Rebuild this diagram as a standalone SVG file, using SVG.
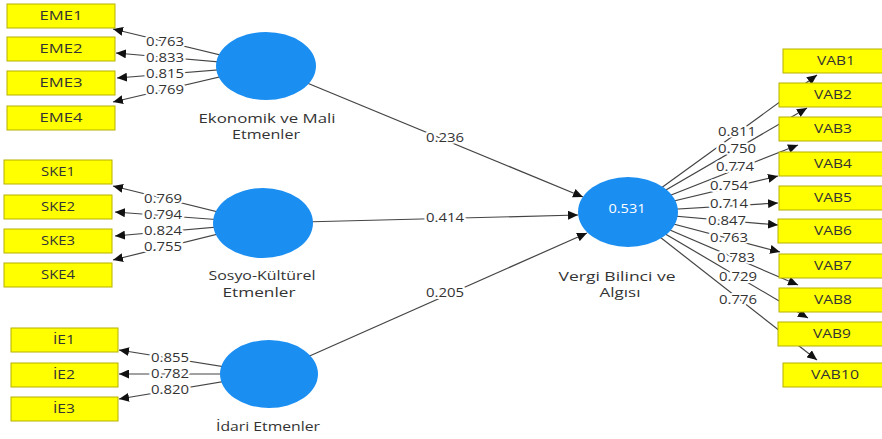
<svg xmlns="http://www.w3.org/2000/svg" width="882" height="439" viewBox="0 0 882 439">
<style>
text{font-family:"Open Sans","Noto Sans","Liberation Sans",sans-serif;fill:#333}
.box{fill:#ffff00;stroke:#b5b000;stroke-width:1}
.bt{font-size:12px;text-anchor:middle}
.lv{fill:#1b8ef2}
.ll{font-size:12px;text-anchor:middle}
.edge{stroke:#444;stroke-width:1.2;fill:none;marker-end:url(#ah)}
.el{font-size:12px;text-anchor:middle;stroke:#fff;stroke-width:4;paint-order:stroke;stroke-linejoin:round}
.r2{font-size:13px;text-anchor:middle;fill:#fff}
</style>
<defs>
<marker id="ah" markerUnits="userSpaceOnUse" markerWidth="11" markerHeight="9" refX="10" refY="4.5" orient="auto"><path d="M0,0 L10,4.5 L0,9 z" fill="#111"/></marker>
</defs>
<rect width="882" height="439" fill="#fff"/>
<g id="connectors">
<line class="edge" x1="266" y1="66" x2="113" y2="29"/>
<line class="edge" x1="266" y1="66" x2="116" y2="53"/>
<line class="edge" x1="266" y1="66" x2="117" y2="78"/>
<line class="edge" x1="266" y1="66" x2="113" y2="102"/>
<line class="edge" x1="263" y1="223" x2="113" y2="186"/>
<line class="edge" x1="263" y1="223" x2="115" y2="212"/>
<line class="edge" x1="263" y1="223" x2="115" y2="236"/>
<line class="edge" x1="263" y1="223" x2="113" y2="260"/>
<line class="edge" x1="269" y1="374" x2="119" y2="350"/>
<line class="edge" x1="269" y1="374" x2="119" y2="374"/>
<line class="edge" x1="269" y1="374" x2="119" y2="399"/>
<line class="edge" x1="266" y1="66" x2="583" y2="197"/>
<line class="edge" x1="263" y1="223" x2="578" y2="215"/>
<line class="edge" x1="269" y1="374" x2="587" y2="233"/>
<line class="edge" x1="628" y1="212" x2="817" y2="75"/>
<line class="edge" x1="628" y1="212" x2="807" y2="108"/>
<line class="edge" x1="628" y1="212" x2="798" y2="145"/>
<line class="edge" x1="628" y1="212" x2="778" y2="176"/>
<line class="edge" x1="628" y1="212" x2="778" y2="203"/>
<line class="edge" x1="628" y1="212" x2="778" y2="225"/>
<line class="edge" x1="628" y1="212" x2="780" y2="252"/>
<line class="edge" x1="628" y1="212" x2="798" y2="285"/>
<line class="edge" x1="628" y1="212" x2="808" y2="318"/>
<line class="edge" x1="628" y1="212" x2="817" y2="360"/>
<text class="el" x="165" y="46" textLength="38" lengthAdjust="spacingAndGlyphs">0.763</text>
<text class="el" x="165" y="62" textLength="38" lengthAdjust="spacingAndGlyphs">0.833</text>
<text class="el" x="165" y="78" textLength="38" lengthAdjust="spacingAndGlyphs">0.815</text>
<text class="el" x="165" y="94" textLength="38" lengthAdjust="spacingAndGlyphs">0.769</text>
<text class="el" x="163" y="203" textLength="38" lengthAdjust="spacingAndGlyphs">0.769</text>
<text class="el" x="163" y="219" textLength="38" lengthAdjust="spacingAndGlyphs">0.794</text>
<text class="el" x="163" y="235" textLength="38" lengthAdjust="spacingAndGlyphs">0.824</text>
<text class="el" x="163" y="251" textLength="38" lengthAdjust="spacingAndGlyphs">0.755</text>
<text class="el" x="170" y="362" textLength="38" lengthAdjust="spacingAndGlyphs">0.855</text>
<text class="el" x="170" y="378" textLength="38" lengthAdjust="spacingAndGlyphs">0.782</text>
<text class="el" x="170" y="394" textLength="38" lengthAdjust="spacingAndGlyphs">0.820</text>
<text class="el" x="445" y="142" textLength="38" lengthAdjust="spacingAndGlyphs">0.236</text>
<text class="el" x="445" y="222" textLength="38" lengthAdjust="spacingAndGlyphs">0.414</text>
<text class="el" x="445" y="297" textLength="38" lengthAdjust="spacingAndGlyphs">0.205</text>
<text class="el" x="737" y="136" textLength="38" lengthAdjust="spacingAndGlyphs">0.811</text>
<text class="el" x="737" y="153" textLength="38" lengthAdjust="spacingAndGlyphs">0.750</text>
<text class="el" x="735" y="171" textLength="38" lengthAdjust="spacingAndGlyphs">0.774</text>
<text class="el" x="729" y="190" textLength="38" lengthAdjust="spacingAndGlyphs">0.754</text>
<text class="el" x="729" y="208" textLength="38" lengthAdjust="spacingAndGlyphs">0.714</text>
<text class="el" x="727" y="225" textLength="38" lengthAdjust="spacingAndGlyphs">0.847</text>
<text class="el" x="729" y="242" textLength="38" lengthAdjust="spacingAndGlyphs">0.763</text>
<text class="el" x="736" y="262" textLength="38" lengthAdjust="spacingAndGlyphs">0.783</text>
<text class="el" x="738" y="281" textLength="38" lengthAdjust="spacingAndGlyphs">0.729</text>
<text class="el" x="738" y="304" textLength="38" lengthAdjust="spacingAndGlyphs">0.776</text>
</g>
<g id="EME1"><rect class="box" x="7" y="4" width="108" height="24"/><text class="bt" x="61" y="20" textLength="43" lengthAdjust="spacingAndGlyphs">EME1</text></g>
<g id="EME2"><rect class="box" x="7" y="37" width="108" height="24"/><text class="bt" x="61" y="53" textLength="43" lengthAdjust="spacingAndGlyphs">EME2</text></g>
<g id="EME3"><rect class="box" x="7" y="71" width="108" height="24"/><text class="bt" x="61" y="87" textLength="43" lengthAdjust="spacingAndGlyphs">EME3</text></g>
<g id="EME4"><rect class="box" x="7" y="106" width="108" height="24"/><text class="bt" x="61" y="122" textLength="43" lengthAdjust="spacingAndGlyphs">EME4</text></g>
<g id="SKE1"><rect class="box" x="4" y="160" width="108" height="24"/><text class="bt" x="58" y="176" textLength="34" lengthAdjust="spacingAndGlyphs">SKE1</text></g>
<g id="SKE2"><rect class="box" x="4" y="195" width="108" height="24"/><text class="bt" x="58" y="211" textLength="34" lengthAdjust="spacingAndGlyphs">SKE2</text></g>
<g id="SKE3"><rect class="box" x="4" y="229" width="108" height="24"/><text class="bt" x="58" y="245" textLength="34" lengthAdjust="spacingAndGlyphs">SKE3</text></g>
<g id="SKE4"><rect class="box" x="4" y="263" width="108" height="24"/><text class="bt" x="58" y="279" textLength="34" lengthAdjust="spacingAndGlyphs">SKE4</text></g>
<g id="IE1"><rect class="box" x="11" y="328" width="107" height="24"/><text class="bt" x="64" y="344" textLength="22" lengthAdjust="spacingAndGlyphs">İE1</text></g>
<g id="IE2"><rect class="box" x="11" y="363" width="107" height="24"/><text class="bt" x="64" y="379" textLength="22" lengthAdjust="spacingAndGlyphs">İE2</text></g>
<g id="IE3"><rect class="box" x="11" y="397" width="107" height="24"/><text class="bt" x="64" y="413" textLength="22" lengthAdjust="spacingAndGlyphs">İE3</text></g>
<g id="VAB1"><rect class="box" x="783" y="49" width="105" height="24"/><text class="bt" x="836" y="65" textLength="38" lengthAdjust="spacingAndGlyphs">VAB1</text></g>
<g id="VAB2"><rect class="box" x="779" y="83" width="108" height="24"/><text class="bt" x="833" y="99" textLength="38" lengthAdjust="spacingAndGlyphs">VAB2</text></g>
<g id="VAB3"><rect class="box" x="779" y="117" width="108" height="24"/><text class="bt" x="833" y="133" textLength="38" lengthAdjust="spacingAndGlyphs">VAB3</text></g>
<g id="VAB4"><rect class="box" x="779" y="152" width="108" height="24"/><text class="bt" x="833" y="168" textLength="38" lengthAdjust="spacingAndGlyphs">VAB4</text></g>
<g id="VAB5"><rect class="box" x="779" y="186" width="108" height="24"/><text class="bt" x="833" y="202" textLength="38" lengthAdjust="spacingAndGlyphs">VAB5</text></g>
<g id="VAB6"><rect class="box" x="778" y="219" width="108" height="24"/><text class="bt" x="833" y="235" textLength="38" lengthAdjust="spacingAndGlyphs">VAB6</text></g>
<g id="VAB7"><rect class="box" x="779" y="254" width="108" height="24"/><text class="bt" x="833" y="270" textLength="38" lengthAdjust="spacingAndGlyphs">VAB7</text></g>
<g id="VAB8"><rect class="box" x="779" y="288" width="108" height="24"/><text class="bt" x="833" y="304" textLength="38" lengthAdjust="spacingAndGlyphs">VAB8</text></g>
<g id="VAB9"><rect class="box" x="778" y="322" width="108" height="24"/><text class="bt" x="832" y="338" textLength="38" lengthAdjust="spacingAndGlyphs">VAB9</text></g>
<g id="VAB10"><rect class="box" x="783" y="363" width="105" height="24"/><text class="bt" x="835" y="379" textLength="48" lengthAdjust="spacingAndGlyphs">VAB10</text></g>
<g id="EkonomikVeMaliEtmenler"><ellipse class="lv" cx="266" cy="66" rx="50" ry="34"/><text class="ll" x="267" y="123" textLength="137" lengthAdjust="spacingAndGlyphs">Ekonomik ve Mali</text><text class="ll" x="266" y="139" textLength="68" lengthAdjust="spacingAndGlyphs">Etmenler</text></g>
<g id="SosyoKulturelEtmenler"><ellipse class="lv" cx="263" cy="223" rx="50" ry="35"/><text class="ll" x="262" y="280" textLength="107" lengthAdjust="spacingAndGlyphs">Sosyo-Kültürel</text><text class="ll" x="259" y="297" textLength="73" lengthAdjust="spacingAndGlyphs">Etmenler</text></g>
<g id="IdariEtmenler"><ellipse class="lv" cx="269" cy="374" rx="49" ry="34"/><text class="ll" x="268" y="431" textLength="104" lengthAdjust="spacingAndGlyphs">İdari Etmenler</text></g>
<g id="VergiBilinciVeAlgisi"><ellipse class="lv" cx="628" cy="212" rx="50" ry="35"/><text class="r2" x="627" y="213" textLength="37" lengthAdjust="spacingAndGlyphs">0.531</text><text class="ll" x="617" y="281" textLength="117" lengthAdjust="spacingAndGlyphs">Vergi Bilinci ve</text><text class="ll" x="620" y="297" textLength="41" lengthAdjust="spacingAndGlyphs">Algısı</text></g>
</svg>
